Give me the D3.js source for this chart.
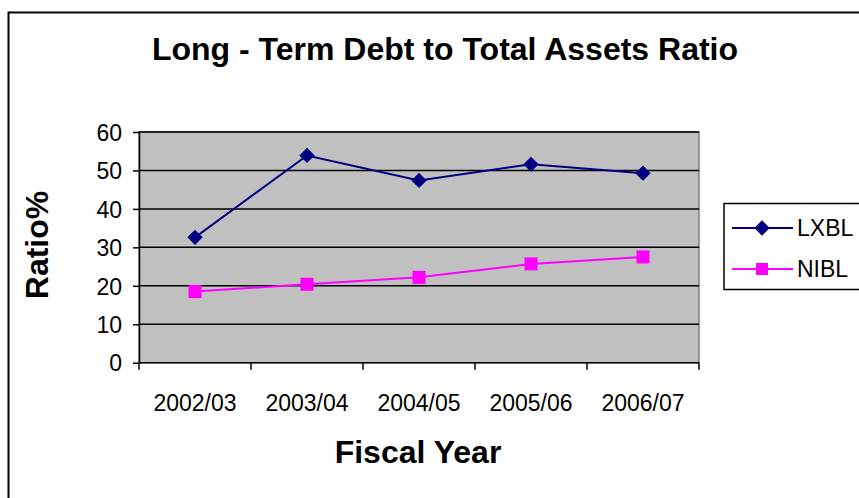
<!DOCTYPE html>
<html>
<head>
<meta charset="utf-8">
<script src="https://cdn.jsdelivr.net/npm/d3@7"></script>
<style>
  html, body { margin: 0; padding: 0; background: #fff; }
  svg { display: block; font-family: "Liberation Sans", Arial, sans-serif; }
</style>
</head>
<body>
<svg id="chart" width="859" height="498"></svg>
<script>
// Fiscal years and ratio values for each bank
const years = ["2002/03", "2003/04", "2004/05", "2005/06", "2006/07"];
const lxbl = [32.6, 53.9, 47.4, 51.6, 49.3];
const nibl = [18.5, 20.4, 22.2, 25.7, 27.5];
const yTicks = [0, 10, 20, 30, 40, 50, 60];
const seriesNames = ["LXBL", "NIBL"];
const seriesColors = ["#000080", "#ff00ff"];

const svg = d3.select("#chart");
const W = 859, H = 498;
const FONT = "Liberation Sans, Arial, sans-serif";

// Outer chart frame
svg.append("rect")
  .attr("x", 8.5).attr("y", 12.5)
  .attr("width", W + 10).attr("height", H + 10)
  .attr("fill", "#fff").attr("stroke", "#000").attr("stroke-width", 2);

const plot = { left: 139, right: 699, top: 132, bottom: 362.7 };

const x = d3.scaleBand().domain(years).range([plot.left, plot.right]);
const y = d3.scaleLinear().domain([0, 60]).range([plot.bottom, plot.top]);

// Plot background
svg.append("rect")
  .attr("x", plot.left).attr("y", plot.top)
  .attr("width", plot.right - plot.left).attr("height", plot.bottom - plot.top)
  .attr("fill", "#c0c0c0")
  .attr("stroke", "#808080").attr("stroke-width", 1.5);

// Horizontal gridlines
svg.append("g")
  .selectAll("line")
  .data(yTicks.filter(d => d > 0))
  .join("line")
  .attr("x1", plot.left).attr("x2", plot.right)
  .attr("y1", d => y(d)).attr("y2", d => y(d))
  .attr("stroke", "#000").attr("stroke-width", 1.5);

// Y axis
const yAxis = svg.append("g")
  .attr("transform", `translate(${plot.left},0)`)
  .call(d3.axisLeft(y).tickValues(yTicks).tickSize(6).tickPadding(11).tickSizeOuter(0));
yAxis.select(".domain").attr("stroke", "#000").attr("stroke-width", 1.5);
yAxis.selectAll(".tick line").attr("stroke", "#000").attr("stroke-width", 1.5);
yAxis.selectAll("text").attr("font-size", 23).attr("fill", "#000")
  .attr("font-family", FONT).attr("dy", "0.36em");

// X axis with ticks at category boundaries
const xg = svg.append("g").attr("transform", `translate(0,${plot.bottom})`);
xg.append("line")
  .attr("x1", plot.left).attr("x2", plot.right)
  .attr("stroke", "#000").attr("stroke-width", 1.5);
const bounds = years.map(d => x(d)).concat([x(years[years.length - 1]) + x.bandwidth()]);
xg.selectAll("line.tk").data(bounds).join("line").attr("class", "tk")
  .attr("x1", d => d).attr("x2", d => d).attr("y1", 0).attr("y2", 7)
  .attr("stroke", "#000").attr("stroke-width", 1.5);
xg.selectAll("text").data(years).join("text")
  .attr("x", d => x(d) + x.bandwidth() / 2)
  .attr("y", 48)
  .attr("text-anchor", "middle")
  .attr("font-size", 23)
  .text(d => d);

const cx = d => x(d) + x.bandwidth() / 2;
const line = d3.line().x((v, i) => cx(years[i])).y(v => y(v));

// LXBL series
svg.append("path").datum(lxbl)
  .attr("d", line).attr("fill", "none")
  .attr("stroke", seriesColors[0]).attr("stroke-width", 2);
const diamond = d3.symbol().type(d3.symbolDiamond2).size(150);
svg.append("g").selectAll("path").data(lxbl).join("path")
  .attr("transform", (v, i) => `translate(${cx(years[i])},${y(v)})`)
  .attr("d", diamond)
  .attr("fill", seriesColors[0]);

// NIBL series
svg.append("path").datum(nibl)
  .attr("d", line).attr("fill", "none")
  .attr("stroke", seriesColors[1]).attr("stroke-width", 2);
svg.append("g").selectAll("rect").data(nibl).join("rect")
  .attr("x", (v, i) => cx(years[i]) - 6.5)
  .attr("y", v => y(v) - 6.5)
  .attr("width", 13).attr("height", 13)
  .attr("fill", seriesColors[1]);

// Title
svg.append("text")
  .attr("x", 445).attr("y", 60)
  .attr("text-anchor", "middle")
  .attr("font-size", 32).attr("font-weight", "bold")
  .text("Long - Term Debt to Total Assets Ratio");

// Axis titles
svg.append("text")
  .attr("x", 418).attr("y", 463)
  .attr("text-anchor", "middle")
  .attr("font-size", 32).attr("font-weight", "bold")
  .text("Fiscal Year");
svg.append("text")
  .attr("transform", "translate(48,245) rotate(-90)")
  .attr("text-anchor", "middle")
  .attr("font-size", 32).attr("font-weight", "bold")
  .text("Ratio%");

// Legend
const lg = svg.append("g");
lg.append("rect")
  .attr("x", 724).attr("y", 203.5)
  .attr("width", 150).attr("height", 86)
  .attr("fill", "#fff").attr("stroke", "#000").attr("stroke-width", 1.5);
const legendY = [228, 269];
seriesNames.forEach((name, i) => {
  lg.append("line")
    .attr("x1", 732).attr("x2", 793)
    .attr("y1", legendY[i]).attr("y2", legendY[i])
    .attr("stroke", seriesColors[i]).attr("stroke-width", 2);
  if (i === 0) {
    lg.append("path")
      .attr("transform", `translate(762,${legendY[i]})`)
      .attr("d", diamond).attr("fill", seriesColors[i]);
  } else {
    lg.append("rect")
      .attr("x", 756).attr("y", legendY[i] - 6)
      .attr("width", 12).attr("height", 12)
      .attr("fill", seriesColors[i]);
  }
  lg.append("text")
    .attr("x", 797).attr("y", legendY[i] + 8)
    .attr("font-size", 23)
    .text(name);
});
</script>
</body>
</html>
